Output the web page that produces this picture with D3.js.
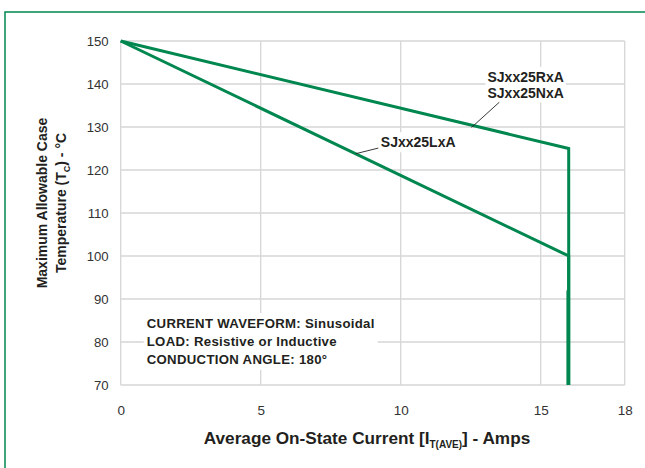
<!DOCTYPE html>
<html>
<head>
<meta charset="utf-8">
<script src="https://cdn.jsdelivr.net/npm/d3@7"></script>
<style>
  body { margin: 0; background: #fff; }
  svg { display: block; font-family: "Liberation Sans", Arial, Helvetica, sans-serif; }
</style>
</head>
<body>
<svg id="chart" width="645" height="468"></svg>
<script>
// ---- data ----
const xTicks = [0, 5, 10, 15, 18];
const yTicks = [70, 80, 90, 100, 110, 120, 130, 140, 150];
const seriesRN_x = [0, 16, 16];
const seriesRN_y = [150, 125, 70];
const seriesL_x = [0, 16, 16];
const seriesL_y = [150, 100, 70];
const labelRN = ["SJxx25RxA", "SJxx25NxA"];
const labelL = ["SJxx25LxA"];
const noteLines = ["CURRENT WAVEFORM: Sinusoidal", "LOAD: Resistive or Inductive", "CONDUCTION ANGLE: 180°"];

// ---- setup ----
const svg = d3.select("#chart");
const green = "#00874f";
const textCol = "#231f20";
const gridCol = "#d6d6d6";

const x = d3.scaleLinear().domain([0, 18]).range([120.7, 624.7]);
const y = d3.scaleLinear().domain([70, 150]).range([385, 41]);

// outer frame
svg.append("rect").attr("x", 5).attr("y", 12).attr("width", 700).attr("height", 500)
  .attr("fill", "none").attr("stroke", green).attr("stroke-width", 1.5);

// grid
const g = svg.append("g");
g.selectAll("line.h").data(yTicks).join("line")
  .attr("x1", x(0)).attr("x2", x(18))
  .attr("y1", d => y(d)).attr("y2", d => y(d))
  .attr("stroke", gridCol).attr("stroke-width", 1.3);
g.selectAll("line.v").data(xTicks).join("line")
  .attr("y1", y(70)).attr("y2", y(150))
  .attr("x1", d => x(d)).attr("x2", d => x(d))
  .attr("stroke", gridCol).attr("stroke-width", 1.3);

// axes (labels only)
const xAxis = d3.axisBottom(x).tickValues(xTicks).tickSize(0).tickPadding(20);
const xa = svg.append("g").attr("transform", `translate(0,${y(70)})`).call(xAxis);
xa.select(".domain").remove();
xa.selectAll("text").attr("font-size", 13.5).attr("fill", "#333").attr("font-family", "Liberation Sans, Arial, sans-serif");

const yAxis = d3.axisLeft(y).tickValues(yTicks).tickSize(0).tickPadding(12);
const ya = svg.append("g").attr("transform", `translate(${x(0)},0)`).call(yAxis);
ya.select(".domain").remove();
ya.selectAll("text").attr("font-size", 13.2).attr("fill", "#333").attr("font-family", "Liberation Sans, Arial, sans-serif");

// helper: text with white background box
function boxedText(lines, xPos, yPos, size, lineH, pad, spacing) {
  const grp = svg.append("g");
  const bg = grp.append("rect").attr("fill", "#fff");
  const t = grp.append("text").attr("font-size", size).attr("font-weight", "bold").attr("fill", textCol)
    .attr("letter-spacing", spacing || 0);
  lines.forEach((s, i) => t.append("tspan").attr("x", xPos).attr("y", yPos + i * lineH).text(s));
  const bb = t.node().getBBox();
  bg.attr("x", bb.x - pad).attr("y", bb.y - pad).attr("width", bb.width + 2 * pad).attr("height", bb.height + 2 * pad);
  return grp;
}

// note box
boxedText(noteLines, x(0.93), y(80) - 14, 13.2, 18, 3, 0.3);

// series labels
boxedText(labelRN, x(13.1), y(140.5), 14, 15.7, 2);
boxedText(labelL, x(9.29), y(125.3), 14, 15, 2);

// series lines
const line = d3.line().x(d => x(d[0])).y(d => y(d[1]));
const ptsRN = seriesRN_x.map((v, i) => [v, seriesRN_y[i]]);
const ptsL = seriesL_x.map((v, i) => [v, seriesL_y[i]]);
svg.append("path").datum(ptsL).attr("d", line).attr("fill", "none")
  .attr("stroke", green).attr("stroke-width", 3).attr("stroke-linejoin", "miter");
svg.append("path").datum(ptsRN).attr("d", line).attr("fill", "none")
  .attr("stroke", green).attr("stroke-width", 3).attr("stroke-linejoin", "miter");
// overlapping lower vertical portion appears heavier
svg.append("line").attr("x1", x(16) - 0.5).attr("x2", x(16) - 0.5)
  .attr("y1", y(92)).attr("y2", y(70)).attr("stroke", green).attr("stroke-width", 3.6);

// leader lines
const leaders = [
  [[13.52, 135.75], [12.53, 129.9]],
  [[9.2, 125.1], [8.4, 123.8]]
];
svg.selectAll("line.leader").data(leaders).join("line")
  .attr("x1", d => x(d[0][0])).attr("y1", d => y(d[0][1]))
  .attr("x2", d => x(d[1][0])).attr("y2", d => y(d[1][1]))
  .attr("stroke", "#222").attr("stroke-width", 0.9);

// x axis title
const xt = svg.append("text").attr("x", 367).attr("y", 444).attr("text-anchor", "middle")
  .attr("font-size", 17.2).attr("font-weight", "bold").attr("fill", textCol);
xt.append("tspan").text("Average On-State Current [I");
xt.append("tspan").attr("font-size", 10).attr("dy", 4).text("T(AVE)");
xt.append("tspan").attr("dy", -4).text("] - Amps");

// y axis title
const yt = svg.append("text").attr("transform", "translate(0,203) rotate(-90)")
  .attr("text-anchor", "middle").attr("font-size", 14).attr("font-weight", "bold").attr("fill", textCol);
yt.append("tspan").attr("x", 0).attr("y", 47).text("Maximum Allowable Case");
const l2 = yt.append("tspan").attr("x", 0).attr("y", 66);
l2.append("tspan").text("Temperature (T");
l2.append("tspan").attr("font-size", 9).attr("dy", 4).text("C");
l2.append("tspan").attr("dy", -4).text(") - °C");
</script>
</body>
</html>
